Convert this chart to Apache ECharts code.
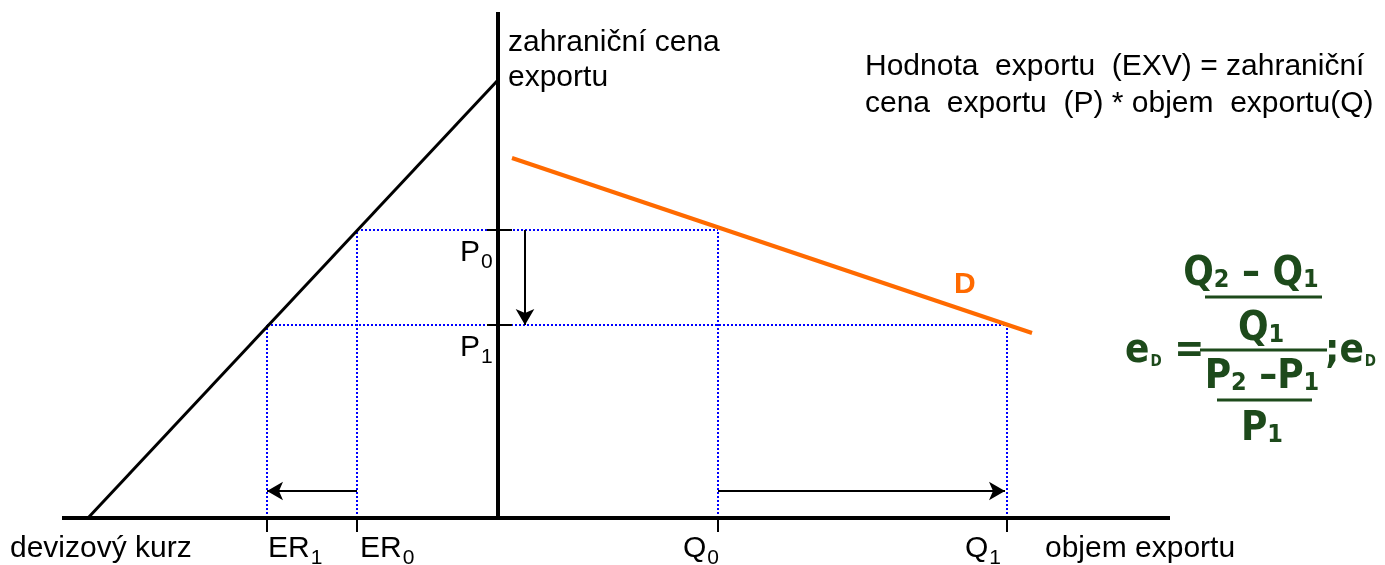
<!DOCTYPE html>
<html lang="cs">
<head>
<meta charset="UTF-8">
<title>Hodnota exportu</title>
<script src="https://cdn.jsdelivr.net/npm/echarts@6.0.0/dist/echarts.min.js"></script>
<style>
  html, body { margin: 0; padding: 0; background: #fff; }
  #chart { width: 1385px; height: 565px; }
</style>
</head>
<body>
<div id="chart"></div>
<script>
  // osy: x < 0 je devizový kurz (doleva), x > 0 objem exportu; y je cena
  const ER = [-141, -231];      // ER0, ER1
  const Q = [220, 509];         // Q0, Q1
  const P = [288, 193];         // P0, P1
  const kurzLine = [[-410, 0], [0, 438]];
  const demandLine = [[14, 360], [534, 185]];
  const xAxisLine = [[-436, 0], [672, 0]];
  const yAxisLine = [[0, 0], [0, 506]];
  const arrowY = 27;
  const arrowX = 27;

  // texty: [x, y, text]
  const labels = [
    [10, 475, 'zahraniční cena'],
    [10, 440, 'exportu'],
    [367, 451, 'Hodnota  exportu  (EXV) = zahraniční'],
    [367, 414, 'cena  exportu  (P) * objem  exportu(Q)'],
    [-488, -31, 'devizový kurz'],
    [547, -31, 'objem exportu']
  ];
  const subLabels = [
    [-38, 265, 'P', '0'],
    [-38, 170, 'P', '1'],
    [-230, -31, 'ER', '1'],
    [-138, -31, 'ER', '0'],
    [185, -31, 'Q', '0'],
    [467, -31, 'Q', '1']
  ];

  const GREEN = '#1d4a1b';
  const BLUE = '#0000ff';

  const chart = echarts.init(document.getElementById('chart'));

  function seg(a, b, color, width, type, z) {
    return {
      type: 'line', data: [a, b], symbol: 'none', silent: true, z: z || 2,
      lineStyle: { color: color, width: width, type: type || 'solid' }
    };
  }

  const series = [];
  // pomocné modré tečkované čáry
  series.push(seg([ER[0], P[0]], [Q[0], P[0]], BLUE, 2, 'dotted', 1));
  series.push(seg([ER[1], P[1]], [Q[1], P[1]], BLUE, 2, 'dotted', 1));
  series.push(seg([ER[0], 0], [ER[0], P[0]], BLUE, 2, 'dotted', 1));
  series.push(seg([ER[1], 0], [ER[1], P[1]], BLUE, 2, 'dotted', 1));
  series.push(seg([Q[0], 0], [Q[0], P[0]], BLUE, 2, 'dotted', 1));
  series.push(seg([Q[1], 0], [Q[1], P[1]], BLUE, 2, 'dotted', 1));
  // osy
  series.push(seg(xAxisLine[0], xAxisLine[1], '#000', 4, 'solid', 3));
  series.push(seg(yAxisLine[0], yAxisLine[1], '#000', 4, 'solid', 3));
  series.push(seg(kurzLine[0], kurzLine[1], '#000', 3, 'solid', 3));
  // poptávka D
  series.push(seg(demandLine[0], demandLine[1], '#ff6a00', 4, 'solid', 4));
  // značky na osách
  [ER[0], ER[1], Q[0], Q[1]].forEach(function (x) {
    series.push(seg([x, 0], [x, -14], '#000', 2, 'solid', 3));
  });
  P.forEach(function (y) {
    series.push(seg([-11, y], [14, y], '#000', 2, 'solid', 3));
  });
  // šipky
  series.push({
    type: 'line', data: [], silent: true, z: 5,
    markLine: {
      silent: true, symbol: ['none', 'arrow'], symbolSize: [14, 16],
      label: { show: false },
      lineStyle: { color: '#000', width: 2, type: 'solid' },
      data: [
        [{ coord: [ER[0], arrowY] }, { coord: [ER[1], arrowY] }],
        [{ coord: [Q[0], arrowY] }, { coord: [Q[1] - 2, arrowY] }],
        [{ coord: [arrowX, P[0]] }, { coord: [arrowX, P[1]] }]
      ]
    }
  });

  function textSeries(data, label) {
    return {
      type: 'scatter', symbolSize: 0, silent: true, z: 6,
      itemStyle: { opacity: 1 },
      data: data,
      label: Object.assign({
        show: true, position: [0, 0], align: 'left', verticalAlign: 'middle',
        formatter: function (p) { return p.name; }
      }, label)
    };
  }

  // prosté texty
  series.push(textSeries(
    labels.map(function (l) { return { value: [l[0], l[1]], name: l[2] }; }),
    { fontFamily: 'Liberation Sans', fontSize: 30, color: '#000' }
  ));
  // texty s dolním indexem
  series.push(textSeries(
    subLabels.map(function (l) { return { value: [l[0], l[1]], name: '{m|' + l[2] + '}{s|' + l[3] + '}' }; }),
    {
      rich: {
        m: { fontFamily: 'Liberation Sans', fontSize: 30, color: '#000', lineHeight: 34 },
        s: { fontFamily: 'Liberation Sans', fontSize: 21, color: '#000', padding: [18, 0, 0, 1], lineHeight: 34 }
      }
    }
  ));
  // D
  series.push(textSeries(
    [{ value: [456, 233], name: 'D' }],
    { fontFamily: 'Liberation Sans', fontWeight: 'bold', fontSize: 30, color: '#ff6a00' }
  ));

  // vzorec elasticity
  const fF = 'DejaVu Sans Condensed';
  const formulaRich = {
    m: { fontFamily: fF, fontWeight: 'bold', fontSize: 40, color: GREEN, lineHeight: 44 },
    s: { fontFamily: fF, fontWeight: 'bold', fontSize: 25, color: GREEN, padding: [11, 0, 0, 0], lineHeight: 44 },
    t: { fontFamily: fF, fontWeight: 'bold', fontSize: 15, color: GREEN, padding: [20, 0, 0, 1], lineHeight: 44 }
  };
  const formulaText = [
    [753, 243, 'center', '{m|Q}{s|2}{m| – Q}{s|1}'],
    [763, 188, 'center', '{m|Q}{s|1}'],
    [764, 140, 'center', '{m|P}{s|2}{m| –P}{s|1}'],
    [764, 88, 'center', '{m|P}{s|1}'],
    [627, 166, 'left', '{m|e}{t|D}{m| =}'],
    [827, 166, 'left', '{m|;e}{t|D}']
  ];
  series.push(textSeries(
    formulaText.map(function (f) {
      return { value: [f[0], f[1]], name: f[3], label: { align: f[2] } };
    }),
    { rich: formulaRich }
  ));
  const fracBars = [
    [[707, 221], [824, 221]],
    [[702, 168], [829, 168]],
    [[719, 118], [814, 118]]
  ];
  fracBars.forEach(function (b) { series.push(seg(b[0], b[1], GREEN, 3, 'solid', 6)); });

  chart.setOption({
    animation: false,
    grid: { left: 0, right: 0, top: 0, bottom: 0 },
    xAxis: { type: 'value', min: -498, max: 887, show: false },
    yAxis: { type: 'value', min: -47, max: 518, show: false },
    series: series
  });
</script>
</body>
</html>
